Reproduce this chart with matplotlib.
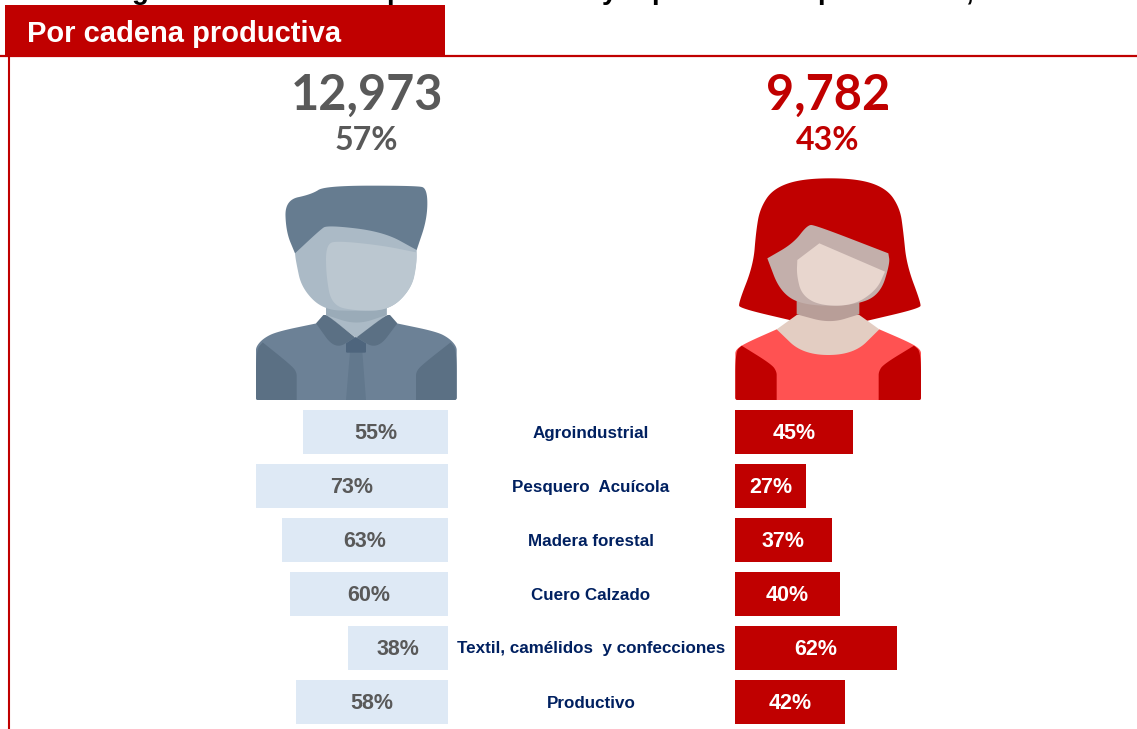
import numpy as np
import matplotlib
matplotlib.use('Agg')
import matplotlib.pyplot as plt

# data
categories = ['Agroindustrial', 'Pesquero  Acuícola', 'Madera forestal', 'Cuero Calzado',
	'Textil, camélidos  y confecciones', 'Productivo']
men_pct = [55, 73, 63, 60, 38, 58]
women_pct = [45, 27, 37, 40, 62, 42]
men_total = '12,973'
women_total = '9,782'
men_share = '57%'
women_share = '43%'
header = 'Por cadena productiva'

RED = '#C00000'
GREY = '#595959'
NAVY = '#002060'
PALE = '#DEE9F5'
W, H = 1137, 729
SANS = 'Liberation Sans'
NUM = 'Lato'


def smooth(pts, n=4):
	# chaikin corner cutting, a corner listed three times stays sharp
	p = np.array(pts, dtype=float)
	for i in range(n):
		q = np.roll(p, -1, axis=0)
		p = np.stack((0.75*p + 0.25*q, 0.25*p + 0.75*q), 1).reshape(-1, 2)
	return p


def blob(ax, pts, color, origin):
	xy = smooth(pts)
	ax.fill(origin[0] + xy[:, 0] / 3, origin[1] + xy[:, 1] / 3, color=color, lw=0)


def sharp(x, y):
	return [(x, y)] * 3


fig = plt.figure(figsize=(W / 100, H / 100), dpi=100)
ax = fig.add_axes([0, 0, 1, 1])
ax.set_xlim(0, W)
ax.set_ylim(H, 0)
ax.axis('off')

# what is left of the cut off title
for ch, x in [('g', 140), ('p', 395), ('y', 610), ('p', 660), ('p', 826), (',', 969)]:
	ax.text(x, -1, ch, fontsize=20, fontweight='bold', family=SANS, color='black', ha='center', va='baseline')

# frame and header
ax.plot([0, W], [56, 56], color=RED, lw=1.6, solid_capstyle='butt', zorder=2)
ax.plot([8.5, 8.5], [56, H], color=RED, lw=1.5, solid_capstyle='butt', zorder=2)
ax.fill([5, 445, 445, 5], [5, 5, 55, 55], color=RED, lw=0, zorder=3)
ax.text(27, 42, header, fontsize=21, fontweight='bold', family=SANS, color='white', va='baseline', zorder=4)

# totals
ax.text(367, 110, men_total, fontsize=35, fontweight='bold', family=NUM, color=GREY, ha='center', va='baseline')
ax.text(828, 110, women_total, fontsize=35, fontweight='bold', family=NUM, color=RED, ha='center', va='baseline')
ax.text(366, 150, men_share, fontsize=23, fontweight='bold', family=NUM, color=GREY, ha='center', va='baseline')
ax.text(828, 150, women_share, fontsize=23, fontweight='bold', family=NUM, color=RED, ha='center', va='baseline')

# man icon
o = (240, 175)
blob(ax, sharp(165, 235) + [(138, 170), (135, 75), (215, 58), (255, 32), (530, 32), (562, 40), (562, 130)]
	+ sharp(530, 225) + [(350, 300)], '#667C90', o)
blob(ax, [(48, 660), (48, 675), (60, 675), (635, 675), (650, 675), (650, 660), (650, 535), (650, 515), (628, 490), (590, 470)]
	+ sharp(470, 445) + sharp(350, 490) + sharp(230, 445) + [(110, 470), (70, 490), (48, 515), (48, 535)], '#6C8196', o)
blob(ax, sharp(68, 502) + [(48, 525), (48, 660), (48, 675), (60, 675)] + sharp(170, 675) + [(170, 615), (170, 590), (150, 568)], '#5B7084', o)
blob(ax, sharp(632, 502) + [(650, 525), (650, 660), (650, 675), (635, 675)] + sharp(528, 675) + [(528, 615), (528, 590), (548, 568)], '#5B7084', o)
blob(ax, sharp(258, 380) + sharp(440, 380) + sharp(440, 420) + sharp(350, 490) + sharp(258, 420), '#ABBAC6', o)
blob(ax, sharp(258, 380) + sharp(440, 380) + sharp(440, 420) + [(350, 450)] + sharp(258, 420), '#9AABB8', o)
blob(ax, sharp(165, 235) + [(240, 165), (262, 150), (430, 170)] + sharp(530, 225)
	+ [(530, 260), (515, 340), (450, 405), (350, 408), (250, 405), (185, 340), (168, 260)], '#ABBAC6', o)
blob(ax, [(300, 198), (258, 205), (258, 300), (275, 392), (350, 408), (450, 405), (515, 340), (530, 270)]
	+ sharp(528, 232) + [(430, 212)], '#BBC7D0', o)
blob(ax, sharp(250, 420) + sharp(228, 445) + [(285, 525)] + sharp(345, 487) + [(262, 420)], '#5B7084', o)
blob(ax, sharp(450, 420) + sharp(472, 445) + [(412, 525)] + sharp(350, 487) + [(438, 420)], '#5B7084', o)
blob(ax, sharp(330, 530) + sharp(318, 675) + sharp(378, 675) + sharp(367, 530), '#62788D', o)
blob(ax, sharp(347, 486) + sharp(378, 505) + [(378, 525), (378, 533), (370, 533), (326, 533), (318, 533), (318, 525)]
	+ sharp(318, 505), '#4E657D', o)

# woman icon
o = (720, 175)
blob(ax, [(55, 385), (100, 270), (108, 170), (120, 100), (160, 40), (250, 10), (410, 10), (500, 40), (540, 100), (550, 170),
	(560, 270), (603, 385), (600, 400)] + sharp(430, 440) + sharp(230, 440) + [(60, 400)], RED, o)
blob(ax, [(46, 660), (46, 675), (60, 675), (590, 675), (603, 675), (603, 660), (603, 545), (603, 525), (575, 505)]
	+ sharp(478, 463) + sharp(170, 463) + [(75, 505), (46, 525), (46, 545)], '#FF5252', o)
blob(ax, sharp(65, 512) + [(46, 530), (46, 660), (46, 675), (60, 675)] + sharp(170, 675) + [(170, 610), (170, 590), (155, 568)], RED, o)
blob(ax, sharp(582, 512) + [(603, 530), (603, 660), (603, 675), (590, 675)] + sharp(476, 675) + [(476, 610), (476, 590), (490, 568)], RED, o)
blob(ax, sharp(230, 420) + sharp(170, 463) + [(250, 540), (400, 540)] + sharp(478, 463) + sharp(418, 420), '#E3CDC2', o)
blob(ax, sharp(230, 365) + sharp(418, 365) + sharp(418, 418) + [(330, 445)] + sharp(230, 418), '#B89E98', o)
blob(ax, sharp(142, 250) + [(220, 205), (262, 150), (285, 150)] + sharp(505, 235)
	+ [(510, 265), (480, 360), (400, 392), (250, 392), (180, 350)], '#C3AFAB', o)
blob(ax, [(298, 205), (298, 205)] + sharp(495, 290) + [(470, 345), (400, 392), (300, 392), (245, 360), (230, 300),
	(232, 255), (232, 255)], '#E8D6CE', o)

# bars: 100% is 262 px wide, rows are 54 px apart from y=405 to the bottom edge
rows = np.arange(len(categories))
men_ax = fig.add_axes([(447.5 - 262) / W, 0, 262 / W, (H - 405) / H])
women_ax = fig.add_axes([735 / W, 0, 262 / W, (H - 405) / H])
for a, vals, col, tcol in [(men_ax, men_pct, PALE, GREY), (women_ax, women_pct, RED, 'white')]:
	a.barh(rows, vals, height=0.83, color=col, lw=0)
	a.set_ylim(len(categories) - 0.5, -0.5)
	a.axis('off')
	a.patch.set_alpha(0)
	for r, v in zip(rows, vals):
		a.text(v / 2, r + 0.03, '{}%'.format(v), fontsize=15.5, fontweight='bold', family=SANS, color=tcol,
			ha='center', va='center')
men_ax.set_xlim(100, 0)
women_ax.set_xlim(0, 100)

for r, c in zip(rows, categories):
	ax.text(591, 433 + 54 * r, c, fontsize=12.25, fontweight='bold', family=SANS, color=NAVY,
		ha='center', va='center')

plt.savefig('out.png', dpi=100)
plt.close()
